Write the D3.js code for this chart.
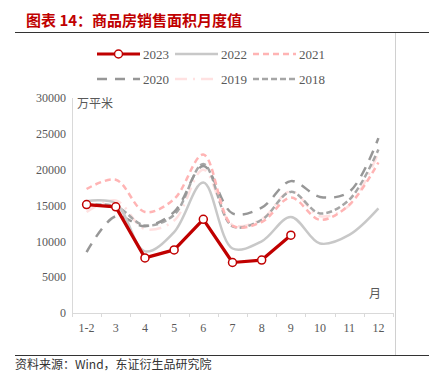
<!DOCTYPE html>
<html>
<head>
<meta charset="utf-8">
<script src="https://cdn.jsdelivr.net/npm/d3@7/dist/d3.min.js"></script>
<style>
  body { margin: 0; background: #fff; }
  svg { display: block; }
</style>
</head>
<body>
<svg id="chart"></svg>
<script>
const MONTHS = ["1-2", "3", "4", "5", "6", "7", "8", "9", "10", "11", "12"];
const Y_TICKS = [0, 5000, 10000, 15000, 20000, 25000, 30000];

// 万平米
const S2023 = [15133, 14813, 7690, 8804, 13075, 7048, 7386, 10857];
const S2022 = [15600, 15300, 8600, 11300, 18200, 9000, 10000, 13400, 9700, 10900, 14600];
const S2021 = [17300, 18600, 14100, 15900, 22100, 12200, 12700, 16100, 13000, 15100, 21000];
const S2020 = [8500, 13500, 12100, 14100, 20500, 13900, 14700, 18400, 16200, 16900, 24400];
const S2019 = [14100, 15700, 11700, 12900, 20000, 12300, 13100, 17000, 13500, 15000, 22400];
const S2018 = [15064, 14900, 12200, 13700, 20800, 12100, 13000, 16900, 13900, 15800, 22800];

const WIDTH = 429;
const HEIGHT = 379;
const SERIF = "'Liberation Serif', 'DejaVu Serif', serif";
const CJK = "'Noto Sans CJK SC', sans-serif";

// style per series, drawn back to front
const SERIES = [
    { name: "2019", values: S2019, color: "#ffe1e1", width: 2.5, dash: "12,6,2,6", smooth: true },
    { name: "2018", values: S2018, color: "#a6a6a6", width: 2.5, dash: "6,3", smooth: true },
    { name: "2020", values: S2020, color: "#979797", width: 2.5, dash: "10,8", smooth: true },
    { name: "2021", values: S2021, color: "#ffb4b4", width: 2.5, dash: "6,4", smooth: true },
    { name: "2022", values: S2022, color: "#c8c8c8", width: 2.5, dash: null, smooth: true },
    { name: "2023", values: S2023, color: "#c00000", width: 3.2, dash: null, smooth: false }
];

window.onload = function(){
    let svg = d3.select("#chart")
        .attr("width", WIDTH)
        .attr("height", HEIGHT);

    // title and frame
    svg.append("text")
        .attr("x", 26).attr("y", 26)
        .attr("font-family", CJK)
        .attr("font-size", "15px")
        .attr("font-weight", "bold")
        .attr("fill", "#c00000")
        .text("图表 14：商品房销售面积月度值");

    svg.append("line").attr("x1", 15).attr("x2", WIDTH).attr("y1", 32.5).attr("y2", 32.5)
        .attr("stroke", "#333").attr("stroke-width", 1);
    svg.append("line").attr("x1", 395.5).attr("x2", 395.5).attr("y1", 33).attr("y2", 355)
        .attr("stroke", "#d0d0d0").attr("stroke-width", 1);
    svg.append("line").attr("x1", 15).attr("x2", WIDTH).attr("y1", 355.5).attr("y2", 355.5)
        .attr("stroke", "#333").attr("stroke-width", 1);

    svg.append("text")
        .attr("x", 15).attr("y", 369)
        .attr("font-family", CJK)
        .attr("font-size", "12px")
        .attr("fill", "#333")
        .text("资料来源：Wind，东证衍生品研究院");

    // scales
    let xScale = d3.scaleBand()
        .domain(MONTHS)
        .range([72, 393])
        .padding(0);

    let yScale = d3.scaleLinear()
        .domain([0, 30000])
        .range([313, 98]);

    let cx = function(i) { return xScale(MONTHS[i]) + xScale.bandwidth() / 2; };

    // y axis
    svg.append("line").attr("x1", 72.5).attr("x2", 72.5).attr("y1", yScale(30000)).attr("y2", yScale(0))
        .attr("stroke", "#d9d9d9");
    svg.selectAll(".ylab")
        .data(Y_TICKS)
        .enter()
        .append("text")
        .attr("class", "ylab")
        .attr("x", 66)
        .attr("y", function(d) { return yScale(d); })
        .attr("dy", "0.35em")
        .attr("text-anchor", "end")
        .attr("font-family", SERIF)
        .attr("font-size", "12px")
        .attr("fill", "#595959")
        .text(function(d) { return d; });

    // x axis
    let xAxis = d3.axisBottom(xScale).tickSize(0).tickPadding(10);
    let gx = svg.append("g")
        .attr("transform", "translate(0," + yScale(0) + ")")
        .call(xAxis);
    gx.select(".domain").attr("stroke", "#d9d9d9");
    gx.selectAll("text")
        .attr("font-family", SERIF)
        .attr("font-size", "12px")
        .attr("fill", "#595959");
    // ticks between categories
    gx.selectAll(".btick")
        .data(MONTHS.concat(["end"]))
        .enter()
        .append("line")
        .attr("class", "btick")
        .attr("x1", function(d, i) { return Math.round(xScale.range()[0] + i * xScale.bandwidth()) + 0.5; })
        .attr("x2", function(d, i) { return Math.round(xScale.range()[0] + i * xScale.bandwidth()) + 0.5; })
        .attr("y1", 0).attr("y2", 4)
        .attr("stroke", "#d9d9d9");

    // unit labels
    svg.append("text").attr("x", 77).attr("y", 108)
        .attr("font-family", CJK).attr("font-size", "12px").attr("fill", "#595959")
        .text("万平米");
    svg.append("text").attr("x", 369).attr("y", 298)
        .attr("font-family", CJK).attr("font-size", "12px").attr("fill", "#595959")
        .text("月");

    // lines
    SERIES.forEach(function(s) {
        let line = d3.line()
            .x(function(d, i) { return cx(i); })
            .y(function(d) { return yScale(d); })
            .curve(s.smooth ? d3.curveCatmullRom.alpha(0.5) : d3.curveLinear);
        svg.append("path")
            .datum(s.values)
            .attr("d", line)
            .attr("fill", "none")
            .attr("stroke", s.color)
            .attr("stroke-width", s.width)
            .attr("stroke-dasharray", s.dash)
            .attr("stroke-linejoin", "round");
    });

    svg.selectAll(".dot")
        .data(S2023)
        .enter()
        .append("circle")
        .attr("class", "dot")
        .attr("cx", function(d, i) { return cx(i); })
        .attr("cy", function(d) { return yScale(d); })
        .attr("r", 4)
        .attr("fill", "#fff")
        .attr("stroke", "#c00000")
        .attr("stroke-width", 1.5);

    // legend
    const LEGEND = ["2023", "2022", "2021", "2020", "2019", "2018"];
    LEGEND.forEach(function(name, k) {
        let s = SERIES.find(function(d) { return d.name === name; });
        let lx = 97 + (k % 3) * 78;
        let ly = 54 + Math.floor(k / 3) * 25;
        svg.append("line")
            .attr("x1", lx).attr("x2", lx + 43)
            .attr("y1", ly).attr("y2", ly)
            .attr("stroke", s.color)
            .attr("stroke-width", s.width)
            .attr("stroke-dasharray", s.dash);
        if (name === "2023") {
            svg.append("circle").attr("cx", lx + 21.5).attr("cy", ly).attr("r", 4)
                .attr("fill", "#fff").attr("stroke", "#c00000").attr("stroke-width", 1.5);
        }
        svg.append("text")
            .attr("x", lx + 46).attr("y", ly)
            .attr("dy", "0.35em")
            .attr("font-family", SERIF)
            .attr("font-size", "13px")
            .attr("fill", "#595959")
            .text(name);
    });
};
</script>
</body>
</html>
